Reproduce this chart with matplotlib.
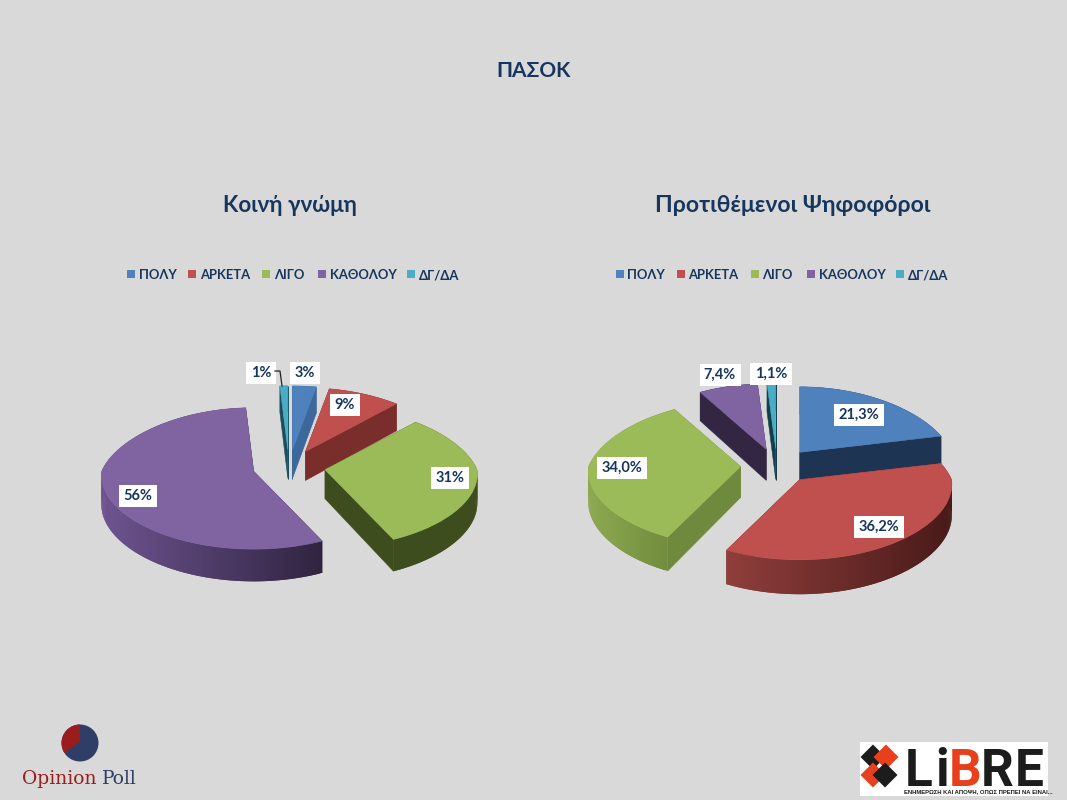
import numpy as np
import matplotlib
matplotlib.use("Agg")
import matplotlib.pyplot as plt
from matplotlib.patches import Polygon, Rectangle, Circle

# ---- data ----
categories = ["ΠΟΛΥ", "ΑΡΚΕΤΑ", "ΛΙΓΟ", "ΚΑΘΟΛΟΥ", "ΔΓ/ΔΑ"]
values_public = [3, 9, 31, 56, 1]
values_voters = [21.3, 36.2, 34.0, 7.4, 1.1]
labels_public = ["3%", "9%", "31%", "56%", "1%"]
labels_voters = ["21,3%", "36,2%", "34,0%", "7,4%", "1,1%"]
main_title = "ΠΑΣΟΚ"
title_public = "Κοινή γνώμη"
title_voters = "Προτιθέμενοι Ψηφοφόροι"

# ---- style ----
BG = "#D9D9D9"
NAVY = "#17365D"
FONT = ["Lato", "Open Sans", "DejaVu Sans"]
top_colors = ["#4F81BD", "#C0504D", "#9BBB59", "#8064A2", "#4BACC6"]

walls_public = [("#3C689B", "#3C689B"), ("#7A2E2C", "#7A2E2C"), ("#3E4D1E", "#3E4D1E"),
                ("#6E5490", "#2F2440"), ("#1A4F5C", "#1A4F5C")]
cuts_public = ["#3C689B", "#7A2E2C", "#3E4D1E", "#2F2440", "#1A4F5C"]
walls_voters = [("#1D3453", "#1D3453"), ("#8F3E3B", "#481A19"), ("#8CAA50", "#6F8A3D"),
                ("#322642", "#322642"), ("#123F4B", "#123F4B")]
cuts_voters = ["#1D3453", "#6E2A28", "#6F8A3D", "#322642", "#123F4B"]

fig = plt.figure(figsize=(10.67, 8), dpi=100, facecolor=BG)
ax = fig.add_axes([0, 0, 1, 1])
ax.set_xlim(0, 1067)
ax.set_ylim(800, 0)
ax.axis("off")


def pie3d(values, center, walls, cuts, labels, label_xy, order,
          a=152, b=70, p=0.10, depth=29, ex=36.5, ey=17.5):
    total = sum(values)
    edges = np.concatenate([[0], np.cumsum(values)]) / total * 2 * np.pi
    for i in order:
        t0, t1 = edges[i], edges[i + 1]
        mid = (t0 + t1) / 2
        apex = (center[0] + ex * np.sin(mid), center[1] - ey * np.cos(mid))
        th = np.linspace(t0, t1, max(4, int((t1 - t0) * 60)))
        v = -np.cos(th)            # +1 = towards the viewer (bottom of picture)
        s = 1 / (1 - p * v)
        sx = 1 / (1 - np.where(v < 0, 0.20, 0.06) * v)
        x = apex[0] + a * np.sin(th) * sx
        y = apex[1] + b * v * s
        d = depth * s
        # cut faces
        for j in (0, -1):
            ax.add_patch(Polygon([apex, (x[j], y[j]), (x[j], y[j] + d[j]),
                                  (apex[0], apex[1] + depth)],
                                 closed=True, fc=cuts[i], ec=cuts[i], lw=0.4))
        # outer wall with a left-to-right gradient (overlapping strips)
        c0 = np.array(matplotlib.colors.to_rgb(walls[i][0]))
        c1 = np.array(matplotlib.colors.to_rgb(walls[i][1]))
        xmin, xmax = x.min(), x.max()
        n = len(th)
        for k in range(n - 1):
            e = min(k + 2, n - 1)
            f = ((x[k] + x[k + 1]) / 2 - xmin) / max(xmax - xmin, 1)
            col = c0 + (c1 - c0) * f
            ax.add_patch(Polygon([(x[k], y[k]), (x[e], y[e]),
                                  (x[e], y[e] + d[e]), (x[k], y[k] + d[k])],
                                 closed=True, fc=col, ec="none"))
        # top face
        ax.add_patch(Polygon(np.vstack([[apex], np.column_stack([x, y])]),
                             closed=True, fc=top_colors[i], ec=top_colors[i], lw=0.4))
    for text, (lx, ly) in zip(labels, label_xy):
        ax.text(lx, ly, text, ha="center", va="center", color=NAVY, fontsize=10.5,
                fontweight="bold", family=FONT, zorder=6,
                bbox=dict(boxstyle="square,pad=0.3", fc="white", ec="none"))


pie3d(values_public, (289, 467), walls_public, cuts_public, labels_public,
      [(305, 373), (345, 405), (450, 478), (138, 496), (261, 373)],
      order=[0, 4, 1, 3, 2])
pie3d(values_voters, (777, 466), walls_voters, cuts_voters, labels_voters,
      [(859, 415), (879, 527), (622, 468), (720, 375), (771, 374)],
      order=[4, 3, 0, 2, 1], b=72, depth=31)

# leader line of the 1% label
ax.plot([275, 280, 282], [371, 371, 386], color="#222222", lw=0.9, zorder=7)

# titles
ax.text(534, 71, main_title, ha="center", va="center", color=NAVY, fontsize=15,
        fontweight="bold", family=FONT)
ax.text(290, 206, title_public, ha="center", va="center", color=NAVY, fontsize=16.2,
        fontweight="bold", family=FONT)
ax.text(793, 206, title_voters, ha="center", va="center", color=NAVY, fontsize=16.6,
        fontweight="bold", family=FONT)

# legends
marker_x = [127, 188, 262, 318, 407]
text_x = [139, 200, 274, 330, 419]
for off in (0, 488.5):
    for name, mx, tx, col in zip(categories, marker_x, text_x, top_colors):
        ax.add_patch(Rectangle((mx + off, 269.5), 8, 8, fc=col, ec="none"))
        ax.text(tx + off, 279, name, ha="left", va="baseline", color=NAVY, fontsize=9.4,
                fontweight="bold", family=FONT)

# OpinionPoll logo
ax.add_patch(Circle((80, 743), 18.5, fc="#2F3E66", ec="none"))
ax.add_patch(Polygon([(80, 741.5), (80, 724.5)] +
                     [(80 + 18.5 * np.sin(t), 743 - 18.5 * np.cos(t))
                      for t in np.linspace(0, -2.15, 30)],
                     closed=True, fc="#9B1C1C", ec="none"))
ax.text(22, 784, "Opinion", ha="left", va="baseline", color="#9B1C1C",
        fontsize=13.5, family="DejaVu Serif")
ax.text(102, 784, "Poll", ha="left", va="baseline", color="#2F3E66",
        fontsize=13.5, family="DejaVu Serif")

# Libre logo
ax.add_patch(Rectangle((860, 742), 188, 54, fc="white", ec="none"))
for cx, cy, col in [(873, 757, "#1C1C1C"), (886, 757, "#E8401C"),
                    (873, 775, "#E8401C"), (885, 775, "#1C1C1C")]:
    r = 12.5
    ax.add_patch(Polygon([(cx, cy - r), (cx + r, cy), (cx, cy + r), (cx - r, cy)],
                         closed=True, fc=col, ec="none"))
for ch, lx, col in [("L", 905, "#1C1C1C"), ("i", 935, "#1C1C1C"), ("B", 949, "#E8401C"),
                    ("R", 981, "#1C1C1C"), ("E", 1015, "#1C1C1C")]:
    ax.text(lx, 786, ch, ha="left", va="baseline", color=col, fontsize=37,
            fontweight="bold", family="Roboto")
ax.text(904, 792, "ΕΝΗΜΕΡΩΣΗ ΚΑΙ ΑΠΟΨΗ, ΟΠΩΣ ΠΡΕΠΕΙ ΝΑ ΕΙΝΑΙ...", ha="left", va="center",
        color="#1C1C1C", fontsize=4.2, fontweight="bold", family="Liberation Sans")

fig.savefig("out.png", dpi=100, facecolor=BG)
